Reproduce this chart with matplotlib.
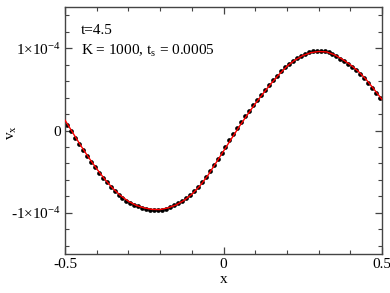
import numpy as np
import matplotlib
matplotlib.use("Agg")
import matplotlib.pyplot as plt
from matplotlib.ticker import FixedLocator, MultipleLocator

plt.rcParams['font.family'] = ['Liberation Serif', 'DejaVu Serif']
plt.rcParams['mathtext.fontset'] = 'custom'
plt.rcParams['mathtext.rm'] = 'Liberation Serif'
plt.rcParams['mathtext.it'] = 'Liberation Serif:italic'

# reference solution (red line), v in units of 1e-4
x_line = [-0.500, -0.475, -0.450, -0.425, -0.400, -0.375, -0.350, -0.325, -0.300,
          -0.275, -0.250, -0.225, -0.200, -0.175, -0.150, -0.125, -0.100, -0.075,
          -0.050, -0.025, 0.000, 0.025, 0.050, 0.075, 0.100, 0.125, 0.150, 0.175,
          0.200, 0.225, 0.250, 0.275, 0.300, 0.325, 0.350, 0.375, 0.400, 0.425,
          0.450, 0.475, 0.500]
v_line = [0.126, -0.03, -0.185, -0.33, -0.465, -0.59, -0.70, -0.79, -0.86,
          -0.91, -0.94, -0.958, -0.96, -0.94, -0.905, -0.85, -0.775, -0.675,
          -0.55, -0.40, -0.25, -0.10, 0.05, 0.19, 0.325, 0.45, 0.57, 0.68,
          0.78, 0.855, 0.91, 0.945, 0.96, 0.955, 0.92, 0.865, 0.80, 0.72,
          0.62, 0.50, 0.378]

# simulation points (black dots), 80 cells
x_dots = list(np.arange(80) * 0.0125 - 0.49375)
v_dots = [0.068, -0.010, -0.087, -0.165, -0.239, -0.311, -0.380, -0.447,
          -0.511, -0.574, -0.631, -0.686, -0.733, -0.778, -0.816, -0.851,
          -0.879, -0.904, -0.921, -0.936, -0.957, -0.966, -0.969, -0.970,
          -0.963, -0.953, -0.927, -0.910, -0.885, -0.857, -0.822, -0.785,
          -0.738, -0.688, -0.629, -0.566, -0.495, -0.420, -0.345, -0.270,
          -0.195, -0.120, -0.045, 0.030, 0.102, 0.172, 0.240, 0.307,
          0.371, 0.434, 0.494, 0.554, 0.611, 0.666, 0.717, 0.767,
          0.808, 0.845, 0.875, 0.903, 0.933, 0.950, 0.961, 0.968,
          0.968, 0.966, 0.952, 0.935, 0.900, 0.872, 0.841, 0.808,
          0.770, 0.730, 0.683, 0.633, 0.576, 0.516, 0.455, 0.394]

yticks = [-1e-4, 0, 1e-4]
ytick_labels = ['-1×10$^{-4}$', '0', '1×10$^{-4}$']
xticks = [-0.5, 0, 0.5]
xtick_labels = ['-0.5', '0', '0.5']

fig = plt.figure(figsize=(3.9, 2.93), dpi=100)
ax = fig.add_axes([0.1667, 0.1331, 0.8128, 0.8429])

ax.plot(x_dots, np.array(v_dots) * 1e-4, 'o', color='k', ms=3.4, mec='none', zorder=2)
ax.plot(x_line, np.array(v_line) * 1e-4, '-', color='red', lw=1.0, zorder=3)

ax.set_xlim(-0.5, 0.5)
ax.set_ylim(-1.5e-4, 1.5e-4)
ax.xaxis.set_major_locator(FixedLocator(xticks))
ax.set_xticklabels(xtick_labels)
ax.xaxis.set_minor_locator(MultipleLocator(0.1))
ax.yaxis.set_major_locator(FixedLocator(yticks))
ax.set_yticklabels(ytick_labels)
ax.yaxis.set_minor_locator(MultipleLocator(0.2e-4))

ax.tick_params(which='both', direction='in', top=True, right=True,
               color='#444444', labelsize=11, pad=3)
ax.tick_params(which='major', length=5, width=0.9)
ax.tick_params(which='minor', length=3, width=0.8)
for s in ax.spines.values():
    s.set_color('#444444')
    s.set_linewidth(1.0)

ax.set_xlabel('x', fontsize=11, labelpad=1)
ax.set_ylabel('v$_{\\rm x}$', fontsize=11)
ax.yaxis.set_label_coords(-0.145, 0.49)

ax.text(0.05, 0.905, 't=4.5', transform=ax.transAxes, fontsize=11, va='center')
ax.text(0.05, 0.822, 'K = 1000, t$_{\\rm s}$ = 0.0005', transform=ax.transAxes,
        fontsize=11, va='center')

fig.savefig('out.png', dpi=100)
